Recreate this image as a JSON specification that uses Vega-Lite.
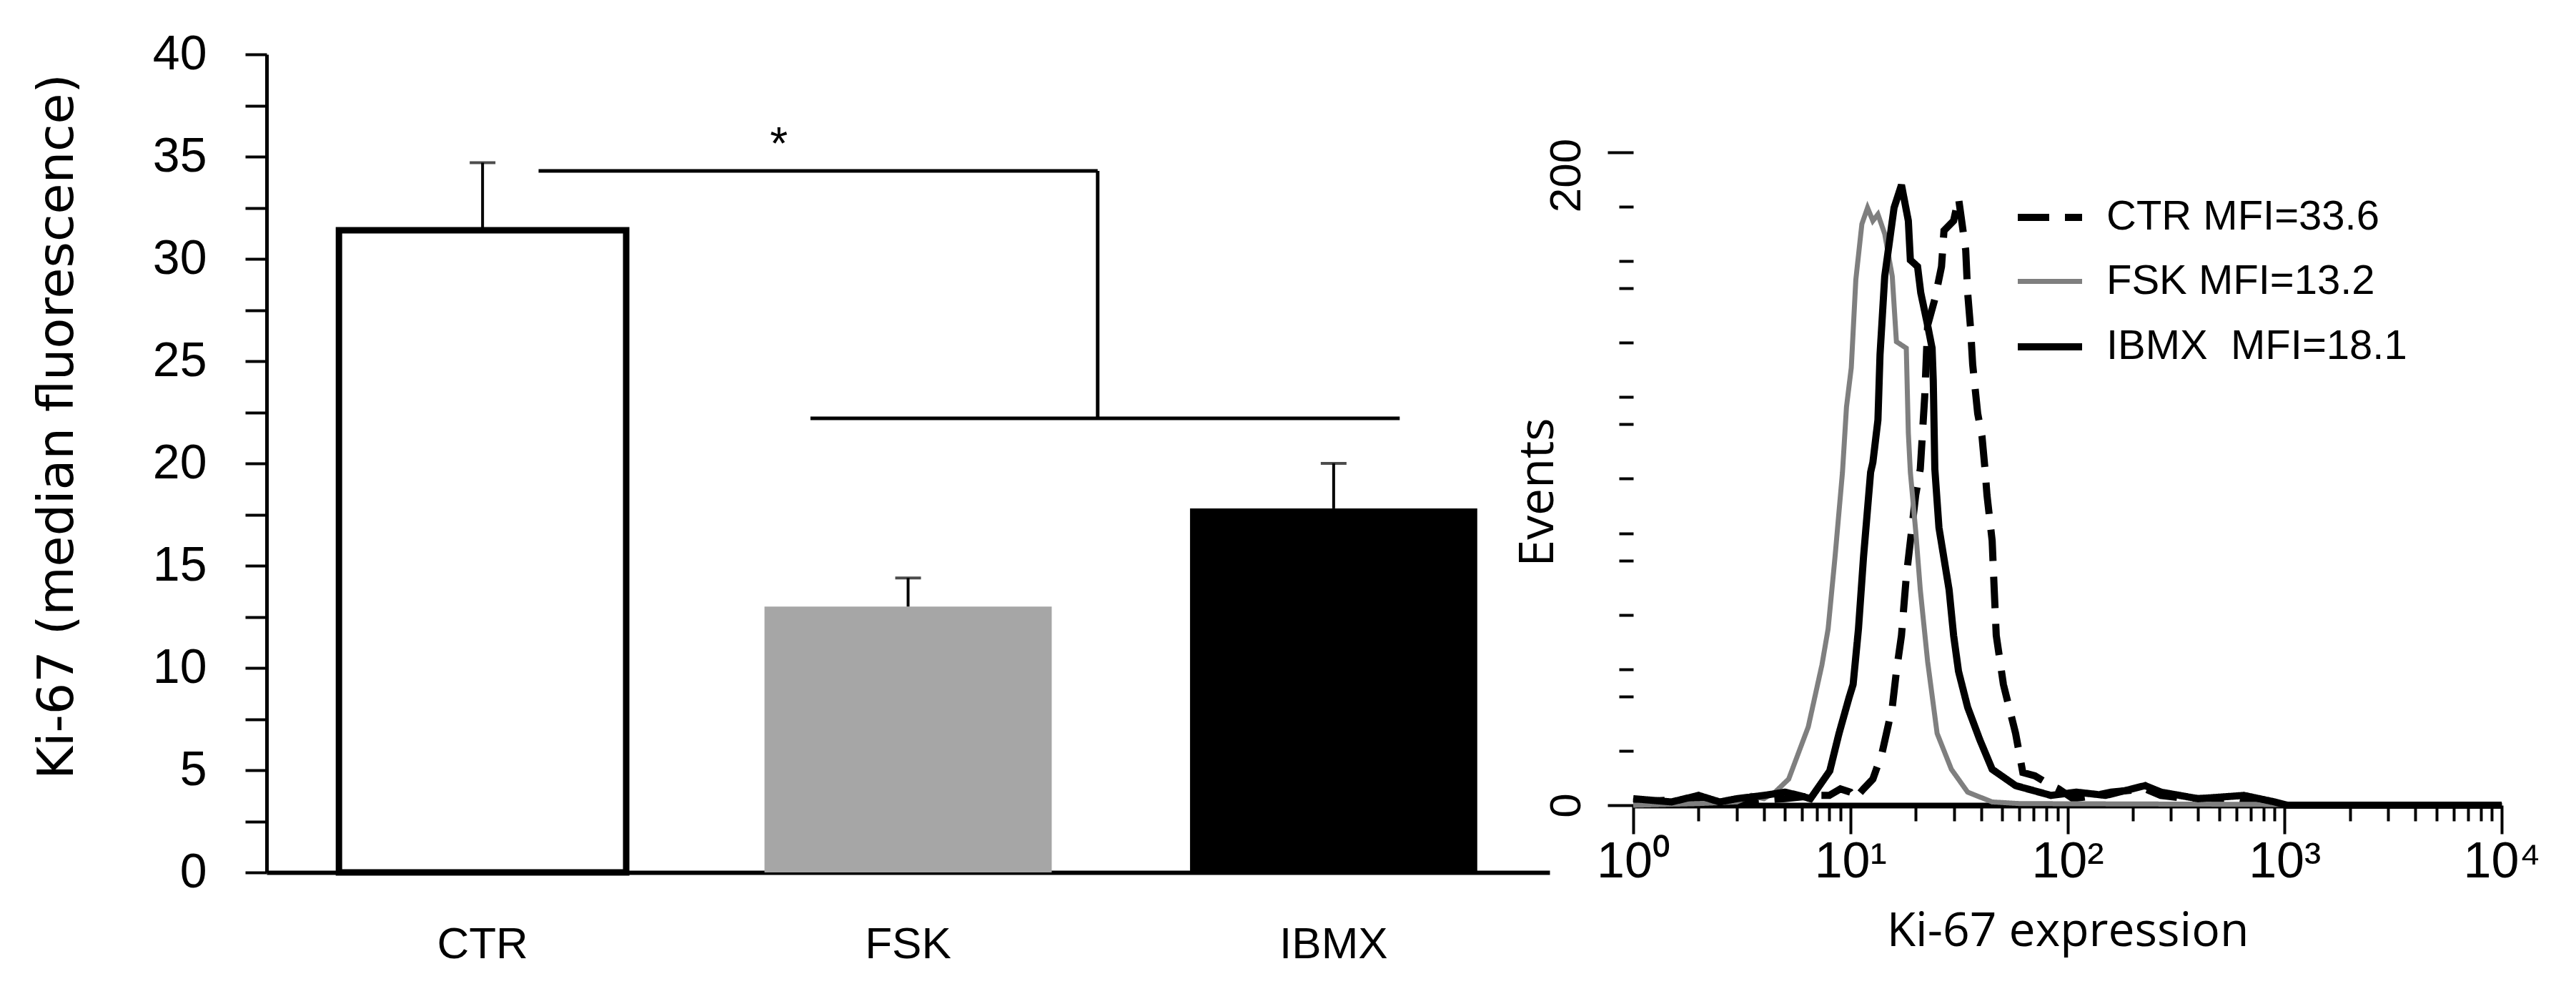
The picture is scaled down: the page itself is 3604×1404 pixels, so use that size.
{
  "$schema": "https://vega.github.io/schema/vega-lite/v6.json",
  "background": "white",
  "padding": {"left": 45, "top": 42, "right": 5, "bottom": 5},
  "bounds": "flush",
  "spacing": 117,
  "config": {
    "view": {"stroke": null},
    "font": "Liberation Sans",
    "axis": {"grid": false, "domainColor": "black", "tickColor": "black", "labelColor": "black", "titleColor": "black", "labelFlush": false, "labelOverlap": false}
  },
  "datasets": {
    "bars": [
      {"group": "CTR", "mean": 31.4, "upper": 34.7},
      {"group": "FSK", "mean": 13.0, "upper": 14.4},
      {"group": "IBMX", "mean": 17.8, "upper": 20.0}
    ],
    "sig": [
      {"control": "CTR", "first": "FSK", "last": "IBMX", "upper": 34.3, "lower": 22.2, "star": 36.3, "mark": "*"}
    ],
    "hist": [
      {"series": "CTR MFI=33.6", "fluorescence": 1, "events": 1},
      {"series": "CTR MFI=33.6", "fluorescence": 2, "events": 2},
      {"series": "CTR MFI=33.6", "fluorescence": 3, "events": 1},
      {"series": "CTR MFI=33.6", "fluorescence": 5, "events": 2},
      {"series": "CTR MFI=33.6", "fluorescence": 7, "events": 3},
      {"series": "CTR MFI=33.6", "fluorescence": 8, "events": 3},
      {"series": "CTR MFI=33.6", "fluorescence": 9, "events": 5},
      {"series": "CTR MFI=33.6", "fluorescence": 10, "events": 4},
      {"series": "CTR MFI=33.6", "fluorescence": 10.5, "events": 2},
      {"series": "CTR MFI=33.6", "fluorescence": 11.5, "events": 5},
      {"series": "CTR MFI=33.6", "fluorescence": 12.7, "events": 8},
      {"series": "CTR MFI=33.6", "fluorescence": 14, "events": 16},
      {"series": "CTR MFI=33.6", "fluorescence": 15.6, "events": 30},
      {"series": "CTR MFI=33.6", "fluorescence": 16.3, "events": 41},
      {"series": "CTR MFI=33.6", "fluorescence": 17.2, "events": 52},
      {"series": "CTR MFI=33.6", "fluorescence": 18.1, "events": 70},
      {"series": "CTR MFI=33.6", "fluorescence": 20, "events": 95},
      {"series": "CTR MFI=33.6", "fluorescence": 21, "events": 103},
      {"series": "CTR MFI=33.6", "fluorescence": 22, "events": 125},
      {"series": "CTR MFI=33.6", "fluorescence": 22.7, "events": 147},
      {"series": "CTR MFI=33.6", "fluorescence": 24.5, "events": 155},
      {"series": "CTR MFI=33.6", "fluorescence": 26.3, "events": 165},
      {"series": "CTR MFI=33.6", "fluorescence": 27, "events": 176},
      {"series": "CTR MFI=33.6", "fluorescence": 29.9, "events": 179},
      {"series": "CTR MFI=33.6", "fluorescence": 31.5, "events": 186},
      {"series": "CTR MFI=33.6", "fluorescence": 34, "events": 170},
      {"series": "CTR MFI=33.6", "fluorescence": 34.7, "events": 157},
      {"series": "CTR MFI=33.6", "fluorescence": 35.8, "events": 146},
      {"series": "CTR MFI=33.6", "fluorescence": 36.6, "events": 135},
      {"series": "CTR MFI=33.6", "fluorescence": 38.6, "events": 120},
      {"series": "CTR MFI=33.6", "fluorescence": 40.4, "events": 113},
      {"series": "CTR MFI=33.6", "fluorescence": 41.7, "events": 103},
      {"series": "CTR MFI=33.6", "fluorescence": 42.6, "events": 95},
      {"series": "CTR MFI=33.6", "fluorescence": 45, "events": 81},
      {"series": "CTR MFI=33.6", "fluorescence": 46, "events": 66},
      {"series": "CTR MFI=33.6", "fluorescence": 47, "events": 52},
      {"series": "CTR MFI=33.6", "fluorescence": 50.7, "events": 37},
      {"series": "CTR MFI=33.6", "fluorescence": 57.7, "events": 22},
      {"series": "CTR MFI=33.6", "fluorescence": 62.3, "events": 10},
      {"series": "CTR MFI=33.6", "fluorescence": 70.8, "events": 9},
      {"series": "CTR MFI=33.6", "fluorescence": 84.3, "events": 6},
      {"series": "CTR MFI=33.6", "fluorescence": 91, "events": 5},
      {"series": "CTR MFI=33.6", "fluorescence": 106, "events": 2},
      {"series": "CTR MFI=33.6", "fluorescence": 135, "events": 3},
      {"series": "CTR MFI=33.6", "fluorescence": 159, "events": 4},
      {"series": "CTR MFI=33.6", "fluorescence": 228, "events": 5},
      {"series": "CTR MFI=33.6", "fluorescence": 269, "events": 3},
      {"series": "CTR MFI=33.6", "fluorescence": 355, "events": 2},
      {"series": "CTR MFI=33.6", "fluorescence": 537, "events": 2},
      {"series": "CTR MFI=33.6", "fluorescence": 650, "events": 1},
      {"series": "CTR MFI=33.6", "fluorescence": 890, "events": 1},
      {"series": "CTR MFI=33.6", "fluorescence": 1030, "events": 0},
      {"series": "CTR MFI=33.6", "fluorescence": 10000, "events": 0},
      {"series": "FSK MFI=13.2", "fluorescence": 1, "events": 0},
      {"series": "FSK MFI=13.2", "fluorescence": 2, "events": 0.5},
      {"series": "FSK MFI=13.2", "fluorescence": 3, "events": 1},
      {"series": "FSK MFI=13.2", "fluorescence": 3.5, "events": 3},
      {"series": "FSK MFI=13.2", "fluorescence": 4, "events": 2},
      {"series": "FSK MFI=13.2", "fluorescence": 4.5, "events": 4},
      {"series": "FSK MFI=13.2", "fluorescence": 5.2, "events": 8},
      {"series": "FSK MFI=13.2", "fluorescence": 6.4, "events": 24},
      {"series": "FSK MFI=13.2", "fluorescence": 7.4, "events": 43},
      {"series": "FSK MFI=13.2", "fluorescence": 7.9, "events": 54},
      {"series": "FSK MFI=13.2", "fluorescence": 8.5, "events": 76},
      {"series": "FSK MFI=13.2", "fluorescence": 9.2, "events": 102},
      {"series": "FSK MFI=13.2", "fluorescence": 9.6, "events": 122},
      {"series": "FSK MFI=13.2", "fluorescence": 10.1, "events": 134},
      {"series": "FSK MFI=13.2", "fluorescence": 10.6, "events": 161},
      {"series": "FSK MFI=13.2", "fluorescence": 11.3, "events": 178},
      {"series": "FSK MFI=13.2", "fluorescence": 12, "events": 183},
      {"series": "FSK MFI=13.2", "fluorescence": 12.7, "events": 179},
      {"series": "FSK MFI=13.2", "fluorescence": 13.4, "events": 181},
      {"series": "FSK MFI=13.2", "fluorescence": 14.4, "events": 175},
      {"series": "FSK MFI=13.2", "fluorescence": 15.6, "events": 162},
      {"series": "FSK MFI=13.2", "fluorescence": 16.3, "events": 142},
      {"series": "FSK MFI=13.2", "fluorescence": 18.1, "events": 140},
      {"series": "FSK MFI=13.2", "fluorescence": 18.5, "events": 114},
      {"series": "FSK MFI=13.2", "fluorescence": 18.9, "events": 102},
      {"series": "FSK MFI=13.2", "fluorescence": 20, "events": 84},
      {"series": "FSK MFI=13.2", "fluorescence": 21, "events": 66},
      {"series": "FSK MFI=13.2", "fluorescence": 22.7, "events": 44},
      {"series": "FSK MFI=13.2", "fluorescence": 25.1, "events": 22},
      {"series": "FSK MFI=13.2", "fluorescence": 29.2, "events": 11},
      {"series": "FSK MFI=13.2", "fluorescence": 34.7, "events": 4},
      {"series": "FSK MFI=13.2", "fluorescence": 45, "events": 1},
      {"series": "FSK MFI=13.2", "fluorescence": 60, "events": 0.5},
      {"series": "FSK MFI=13.2", "fluorescence": 10000, "events": 0},
      {"series": "IBMX\u00a0 MFI=18.1", "fluorescence": 1, "events": 2},
      {"series": "IBMX\u00a0 MFI=18.1", "fluorescence": 1.5, "events": 1},
      {"series": "IBMX\u00a0 MFI=18.1", "fluorescence": 2, "events": 3},
      {"series": "IBMX\u00a0 MFI=18.1", "fluorescence": 2.5, "events": 1},
      {"series": "IBMX\u00a0 MFI=18.1", "fluorescence": 3, "events": 2},
      {"series": "IBMX\u00a0 MFI=18.1", "fluorescence": 4, "events": 3},
      {"series": "IBMX\u00a0 MFI=18.1", "fluorescence": 5, "events": 4},
      {"series": "IBMX\u00a0 MFI=18.1", "fluorescence": 5.8, "events": 3},
      {"series": "IBMX\u00a0 MFI=18.1", "fluorescence": 6.55, "events": 2},
      {"series": "IBMX\u00a0 MFI=18.1", "fluorescence": 8.04, "events": 10.5},
      {"series": "IBMX\u00a0 MFI=18.1", "fluorescence": 8.87, "events": 22},
      {"series": "IBMX\u00a0 MFI=18.1", "fluorescence": 9.87, "events": 33},
      {"series": "IBMX\u00a0 MFI=18.1", "fluorescence": 10.3, "events": 37},
      {"series": "IBMX\u00a0 MFI=18.1", "fluorescence": 10.9, "events": 54},
      {"series": "IBMX\u00a0 MFI=18.1", "fluorescence": 11.5, "events": 76},
      {"series": "IBMX\u00a0 MFI=18.1", "fluorescence": 12.4, "events": 102},
      {"series": "IBMX\u00a0 MFI=18.1", "fluorescence": 12.7, "events": 105},
      {"series": "IBMX\u00a0 MFI=18.1", "fluorescence": 13.4, "events": 118},
      {"series": "IBMX\u00a0 MFI=18.1", "fluorescence": 13.7, "events": 138},
      {"series": "IBMX\u00a0 MFI=18.1", "fluorescence": 14.4, "events": 162},
      {"series": "IBMX\u00a0 MFI=18.1", "fluorescence": 15.9, "events": 183},
      {"series": "IBMX\u00a0 MFI=18.1", "fluorescence": 17.2, "events": 190},
      {"series": "IBMX\u00a0 MFI=18.1", "fluorescence": 18.5, "events": 179},
      {"series": "IBMX\u00a0 MFI=18.1", "fluorescence": 18.9, "events": 167},
      {"series": "IBMX\u00a0 MFI=18.1", "fluorescence": 20.4, "events": 165},
      {"series": "IBMX\u00a0 MFI=18.1", "fluorescence": 21.1, "events": 157},
      {"series": "IBMX\u00a0 MFI=18.1", "fluorescence": 22.7, "events": 147},
      {"series": "IBMX\u00a0 MFI=18.1", "fluorescence": 23.8, "events": 140},
      {"series": "IBMX\u00a0 MFI=18.1", "fluorescence": 24.1, "events": 130},
      {"series": "IBMX\u00a0 MFI=18.1", "fluorescence": 24.5, "events": 103},
      {"series": "IBMX\u00a0 MFI=18.1", "fluorescence": 25.6, "events": 85},
      {"series": "IBMX\u00a0 MFI=18.1", "fluorescence": 28.5, "events": 66},
      {"series": "IBMX\u00a0 MFI=18.1", "fluorescence": 29.9, "events": 52},
      {"series": "IBMX\u00a0 MFI=18.1", "fluorescence": 31.5, "events": 41},
      {"series": "IBMX\u00a0 MFI=18.1", "fluorescence": 34.7, "events": 30},
      {"series": "IBMX\u00a0 MFI=18.1", "fluorescence": 39.5, "events": 20},
      {"series": "IBMX\u00a0 MFI=18.1", "fluorescence": 45, "events": 11},
      {"series": "IBMX\u00a0 MFI=18.1", "fluorescence": 57.7, "events": 6},
      {"series": "IBMX\u00a0 MFI=18.1", "fluorescence": 84, "events": 3},
      {"series": "IBMX\u00a0 MFI=18.1", "fluorescence": 110, "events": 4},
      {"series": "IBMX\u00a0 MFI=18.1", "fluorescence": 150, "events": 3},
      {"series": "IBMX\u00a0 MFI=18.1", "fluorescence": 228, "events": 6},
      {"series": "IBMX\u00a0 MFI=18.1", "fluorescence": 270, "events": 4},
      {"series": "IBMX\u00a0 MFI=18.1", "fluorescence": 400, "events": 2},
      {"series": "IBMX\u00a0 MFI=18.1", "fluorescence": 650, "events": 3},
      {"series": "IBMX\u00a0 MFI=18.1", "fluorescence": 900, "events": 1},
      {"series": "IBMX\u00a0 MFI=18.1", "fluorescence": 1030, "events": 0},
      {"series": "IBMX\u00a0 MFI=18.1", "fluorescence": 10000, "events": 0}
    ]
  },
  "hconcat": [
    {
      "width": 1795,
      "height": 1144,
      "layer": [
        {
          "data": {"name": "bars"},
          "mark": {"type": "bar", "strokeWidth": 9},
          "encoding": {
            "x": {
              "field": "group", "type": "nominal",
              "scale": {"domain": ["CTR", "FSK", "IBMX"], "paddingInner": 0.325, "paddingOuter": 0.17},
              "axis": {"title": null, "labelAngle": 0, "ticks": false, "domainWidth": 6, "labelFont": "Liberation Sans", "labelFontSize": 62, "labelPadding": 70}
            },
            "y": {
              "field": "mean", "type": "quantitative",
              "scale": {"domain": [0, 40], "nice": false},
              "axis": {
                "title": "Ki-67 (median fluorescence)",
                "values": [0, 2.5, 5, 7.5, 10, 12.5, 15, 17.5, 20, 22.5, 25, 27.5, 30, 32.5, 35, 37.5, 40],
                "labelExpr": "datum.value % 5 === 0 ? datum.label : ''",
                "tickSize": 30, "tickWidth": 4, "domainWidth": 5,
                "labelFont": "Liberation Sans", "labelFontSize": 68, "labelPadding": 54,
                "titleFont": "DejaVu Sans", "titleFontSize": 70, "titleFontWeight": "normal",
                "titlePadding": 97, "titleY": 520
              }
            },
            "fill": {"field": "group", "type": "nominal", "scale": {"domain": ["CTR", "FSK", "IBMX"], "range": ["#ffffff", "#a6a6a6", "#000000"]}, "legend": null},
            "stroke": {"condition": {"test": "datum.group === 'CTR'", "value": "#000000"}, "value": null}
          }
        },
        {
          "data": {"name": "bars"},
          "mark": {"type": "rule", "strokeWidth": 4, "color": "#000000"},
          "encoding": {
            "x": {"field": "group", "type": "nominal"},
            "y": {"field": "mean", "type": "quantitative"},
            "y2": {"field": "upper"}
          }
        },
        {
          "data": {"name": "bars"},
          "mark": {"type": "tick", "orient": "horizontal", "size": 36, "thickness": 4, "color": "#000000"},
          "encoding": {
            "x": {"field": "group", "type": "nominal"},
            "y": {"field": "upper", "type": "quantitative"}
          }
        },
        {
          "data": {"name": "sig"},
          "mark": {"type": "rule", "strokeWidth": 5, "color": "#000000"},
          "encoding": {
            "x": {"field": "control", "type": "nominal", "bandPosition": 0.695},
            "x2": {"field": "first", "bandPosition": 1.16},
            "y": {"field": "upper", "type": "quantitative"}
          }
        },
        {
          "data": {"name": "sig"},
          "mark": {"type": "rule", "strokeWidth": 5, "color": "#000000"},
          "encoding": {
            "x": {"field": "first", "type": "nominal", "bandPosition": 1.16},
            "y": {"field": "upper", "type": "quantitative"},
            "y2": {"field": "lower"}
          }
        },
        {
          "data": {"name": "sig"},
          "mark": {"type": "rule", "strokeWidth": 5, "color": "#000000"},
          "encoding": {
            "x": {"field": "first", "type": "nominal", "bandPosition": 0.16},
            "x2": {"field": "last", "bandPosition": 0.73},
            "y": {"field": "lower", "type": "quantitative"}
          }
        },
        {
          "data": {"name": "sig"},
          "mark": {"type": "text", "font": "Liberation Sans", "fontSize": 64, "baseline": "middle", "align": "center", "dy": 22, "color": "#000000"},
          "encoding": {
            "x": {"field": "first", "type": "nominal", "bandPosition": 0.05},
            "y": {"field": "star", "type": "quantitative"},
            "text": {"field": "mark"}
          }
        }
      ]
    },
    {
      "width": 1215,
      "height": 1050,
      "layer": [
        {
          "mark": {"type": "rule", "strokeWidth": 5, "color": "#000000"},
          "encoding": {
            "x": {"datum": 1, "type": "quantitative"},
            "y": {"datum": 0, "type": "quantitative"},
            "y2": {"datum": 200}
          }
        },
        {
          "data": {"name": "hist"},
          "mark": {"type": "line", "strokeJoin": "miter"},
          "encoding": {
            "x": {
              "field": "fluorescence", "type": "quantitative",
              "scale": {"type": "log", "domain": [1, 10000]},
              "axis": {
                "title": "Ki-67 expression",
                "values": [1, 2, 3, 4, 5, 6, 7, 8, 9, 10, 20, 30, 40, 50, 60, 70, 80, 90, 100, 200, 300, 400, 500, 600, 700, 800, 900, 1000, 2000, 3000, 4000, 5000, 6000, 7000, 8000, 9000, 10000],
                "labelExpr": "indexof([1, 10, 100, 1000, 10000], datum.value) >= 0 ? '10' + ['⁰', '¹', '²', '³', '⁴'][round(log(datum.value) / LN10)] : ''",
                "tickSize": {"condition": {"test": "indexof([1, 10, 100, 1000, 10000], datum.value) >= 0", "value": 40}, "value": 22},
                "tickWidth": 4, "domainWidth": 8,
                "labelFont": "Liberation Sans", "labelFontSize": 70, "labelPadding": 5,
                "titleFont": "Open Sans", "titleFontSize": 66, "titleFontWeight": "normal", "titlePadding": 30
              }
            },
            "y": {
              "field": "events", "type": "quantitative",
              "scale": {"domain": [0, 230], "nice": false},
              "axis": {
                "title": "Events",
                "domain": false,
                "values": [0, 8.333, 16.667, 25, 33.333, 40, 41.667, 50, 58.333, 66.667, 75, 80, 83.333, 91.667, 100, 108.333, 116.667, 120, 125, 133.333, 141.667, 150, 158.333, 160, 166.667, 175, 183.333, 191.667, 200],
                "labelExpr": "datum.value === 0 || datum.value === 200 ? datum.label : ''",
                "labelAngle": -90,
                "labelOffset": {"condition": {"test": "datum.value === 200", "value": 32}, "value": 0},
                "tickSize": {"condition": {"test": "datum.value % 40 === 0", "value": 36}, "value": 20},
                "tickWidth": 4,
                "labelFont": "Liberation Sans", "labelFontSize": 62, "labelPadding": 26,
                "titleFont": "Open Sans", "titleFontSize": 68, "titleFontWeight": "normal",
                "titlePadding": -26, "titleY": 612
              }
            },
            "color": {
              "field": "series", "type": "nominal",
              "scale": {"domain": ["CTR MFI=33.6", "FSK MFI=13.2", "IBMX\u00a0 MFI=18.1"], "range": ["#000000", "#7f7f7f", "#000000"]},
              "legend": {
                "title": null, "orient": "none", "legendX": 2445, "legendY": 178,
                "symbolType": "stroke", "symbolSize": 8100,
                "labelFont": "Liberation Sans", "labelFontSize": 58, "labelOffset": 29, "rowPadding": 12, "labelLimit": 0
              }
            },
            "strokeDash": {
              "field": "series", "type": "nominal",
              "scale": {"domain": ["CTR MFI=33.6", "FSK MFI=13.2", "IBMX\u00a0 MFI=18.1"], "range": [[44, 22], [1, 0], [1, 0]]}
            },
            "strokeWidth": {
              "field": "series", "type": "nominal",
              "scale": {"type": "ordinal", "domain": ["CTR MFI=33.6", "FSK MFI=13.2", "IBMX\u00a0 MFI=18.1"], "range": [10, 7, 10]}
            }
          }
        }
      ]
    }
  ]
}
